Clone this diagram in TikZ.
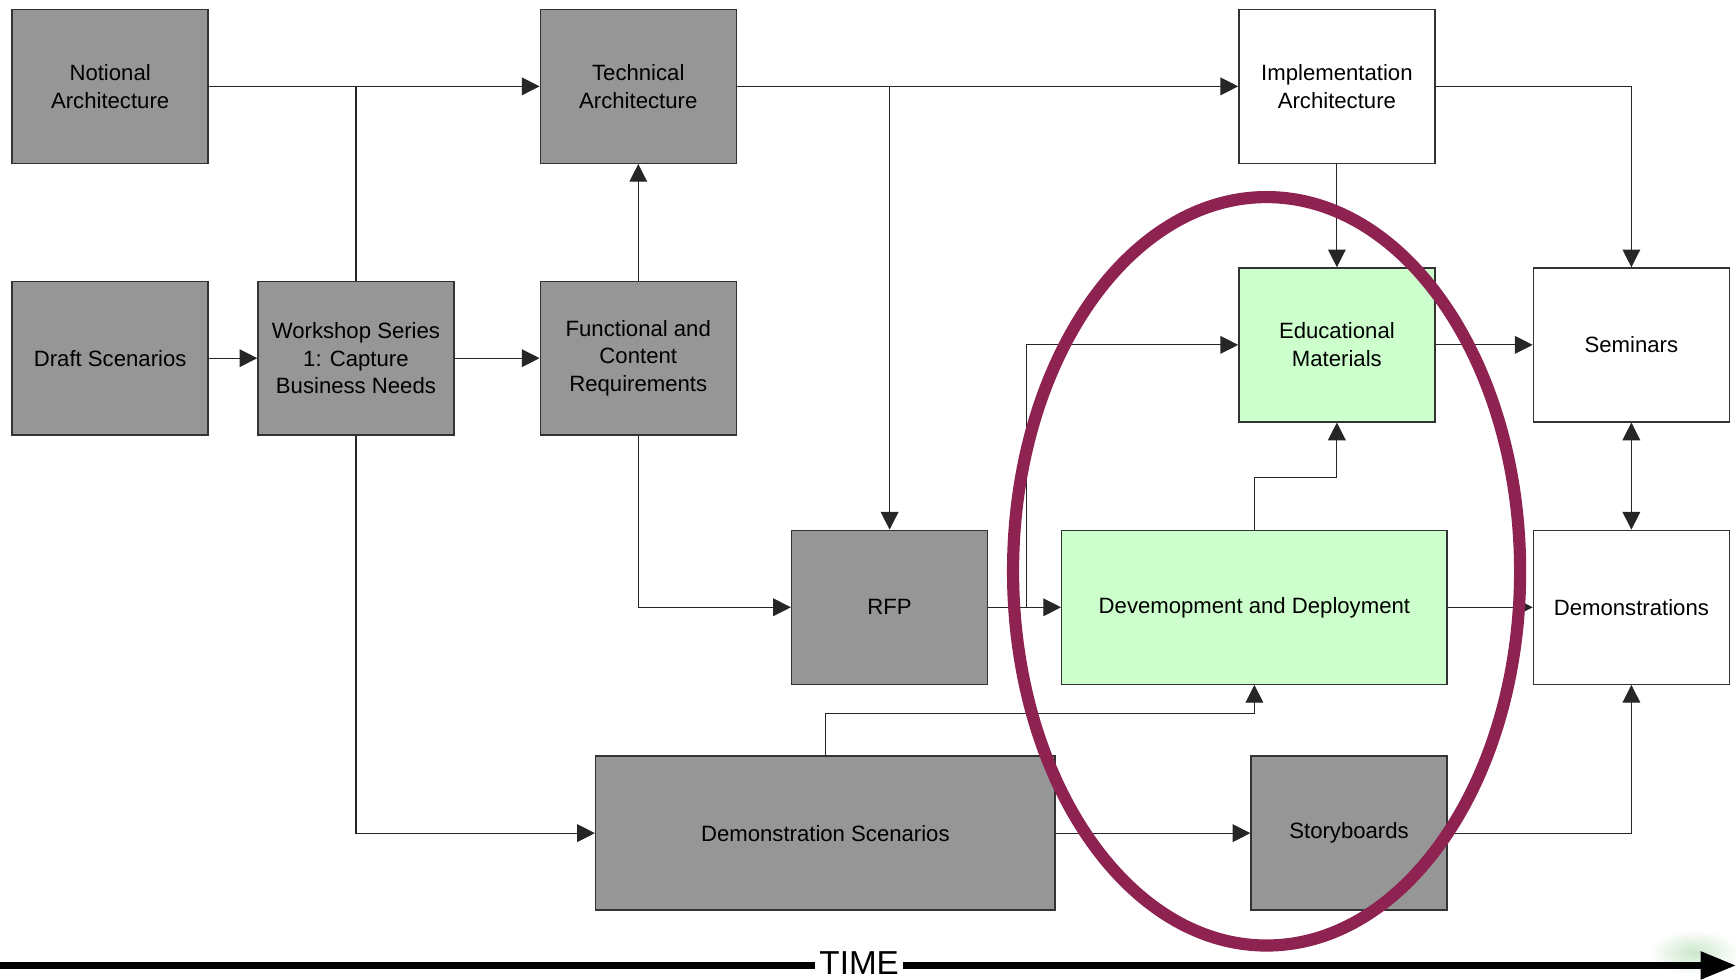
\documentclass[tikz,border=0pt]{standalone}
\usepackage{fontspec}
\setmainfont{Liberation Sans}
\usetikzlibrary{arrows.meta}
\definecolor{boxgray}{RGB}{150,150,150}
\definecolor{boxgreen}{RGB}{204,255,204}
\definecolor{ellcol}{RGB}{142,35,82}
\definecolor{blurgreen}{RGB}{180,220,180}
\begin{document}
\begin{tikzpicture}[x=0.5pt,y=-0.5pt,
  box/.style={draw=black!80,line width=0.65pt,inner sep=2pt,align=center,
    font=\fontsize{10}{12.5}\selectfont,minimum width=88.5pt,minimum height=69.5pt},
  gbox/.style={box,fill=boxgray},
  grbox/.style={box,fill=boxgreen},
  wbox/.style={box,fill=white},
  conn/.style={draw=black!85,line width=0.5pt},
  tip/.style={},
  arr/.style={conn,-{Triangle[length=8pt,width=8pt]}},
  darr/.style={conn,{Triangle[length=8pt,width=8pt]}-{Triangle[length=8pt,width=8pt]}}]
\useasboundingbox (0,0) rectangle (1568,885);
% faint green blur at bottom right
\shade[inner color=blurgreen,outer color=white,opacity=0.7] (1530,860) ellipse [x radius=20pt,y radius=10pt];
% nodes
\node[gbox] (notional) at (99.5,78) {Notional\\Architecture};
\node[gbox] (tech) at (576.5,78) {Technical\\Architecture};
\node[wbox] (impl) at (1207.5,78) {Implementation\\Architecture};
\node[gbox] (draft) at (99.5,323.5) {Draft Scenarios};
\node[gbox] (work) at (321.5,323.5) {Workshop Series\\1: Capture\\Business Needs};
\node[gbox] (func) at (576.5,323.5) {Functional and\\Content\\Requirements};
\node[grbox] (edu) at (1207.5,311.5) {Educational\\Materials};
\node[wbox] (sem) at (1473.5,311.5) {Seminars};
\node[gbox] (rfp) at (803.5,548.5) {RFP};
\node[grbox,minimum width=174pt] (dev) at (1133,548.5) {Devemopment and Deployment};
\node[wbox] (demo) at (1473.5,548.5) {Demonstrations};
\node[gbox,minimum width=207.5pt] (dscen) at (745.5,752.5) {Demonstration Scenarios};
\node[gbox] (story) at (1218.5,752.5) {Storyboards};
% connectors
\draw[arr] (notional.east) -- (tech.west);
\draw[conn] (work.north) -- (work.north |- notional.east);
\draw[arr] (draft.east) -- (work.west);
\draw[arr] (work.east) -- (func.west);
\draw[arr] (func.north) -- (tech.south);
\draw[arr] (tech.east) -- (impl.west);
\draw[arr] (tech.east) -| (rfp.north);
\draw[arr] (func.south) |- (rfp.west);
\draw[arr] (rfp.east) -- (dev.west);
\coordinate (br) at (927,548.5);
\draw[arr] (br) |- (edu.west);
\draw[arr] (impl.south) -- (edu.north);
\draw[arr] (impl.east) -| (sem.north);
\draw[arr] (edu.east) -- (sem.west);
\draw[darr] (sem.south) -- (demo.north);
\draw[arr] (dev.east) -- (demo.west);
\draw[arr] (dev.north) -- ++(0,-47) -| (edu.south);
\draw[arr] (work.south) |- (dscen.west);
\draw[arr] (dscen.north) -- ++(0,-38) -| (dev.south);
\draw[arr] (dscen.east) -- (story.west);
\draw[arr] (story.east) -| (demo.south);
% highlight ellipse
\draw[ellcol,line width=5.5pt] (1144,516) ellipse [x radius=114.5pt,y radius=169pt];
% time axis
\coordinate (tl) at (0,872);
\coordinate (tr) at (1568,872);
\draw[line width=3pt,-{Triangle[length=16pt,width=12pt]}] (tl) -- (tr);
\node[fill=white,inner xsep=2pt,inner ysep=0pt,font=\fontsize{15}{15}\selectfont] (time) at (776,870) {TIME};
\end{tikzpicture}
\end{document}
